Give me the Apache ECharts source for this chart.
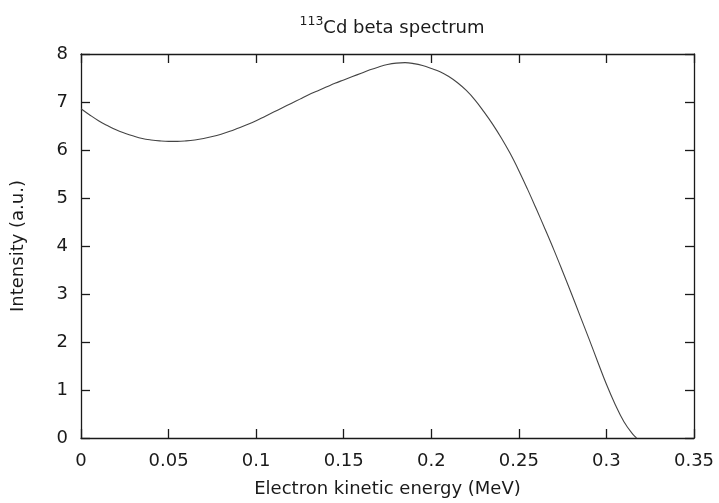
<!DOCTYPE html>
<html>
<head>
<meta charset="utf-8">
<script src="https://cdn.jsdelivr.net/npm/echarts@6/dist/echarts.min.js"></script>
<style>
  html, body { margin: 0; padding: 0; background: #fff; }
  #chart { width: 719px; height: 503px; }
</style>
</head>
<body>
<div id="chart"></div>
<script>
// Electron kinetic energy (MeV)
const energy = [
  0, 0.005, 0.01, 0.015, 0.02, 0.025, 0.03, 0.035, 0.04, 0.045,
  0.05, 0.055, 0.06, 0.065, 0.07, 0.075, 0.08, 0.085, 0.09, 0.095,
  0.1, 0.105, 0.11, 0.115, 0.12, 0.125, 0.13, 0.135, 0.14, 0.145,
  0.15, 0.155, 0.16, 0.165, 0.17, 0.175, 0.18, 0.185, 0.19, 0.195,
  0.2, 0.205, 0.21, 0.215, 0.22, 0.225, 0.23, 0.235, 0.24, 0.245,
  0.25, 0.255, 0.26, 0.265, 0.27, 0.275, 0.28, 0.285, 0.29, 0.295,
  0.3, 0.305, 0.31, 0.315, 0.3172
];
// Intensity (a.u.)
const intensity = [
  6.86, 6.73, 6.61, 6.51, 6.42, 6.35, 6.29, 6.24, 6.21, 6.19,
  6.18, 6.18, 6.19, 6.21, 6.24, 6.28, 6.33, 6.39, 6.46, 6.53,
  6.61, 6.70, 6.79, 6.88, 6.97, 7.06, 7.15, 7.23, 7.31, 7.39,
  7.46, 7.53, 7.60, 7.67, 7.73, 7.78, 7.81, 7.82, 7.80, 7.76,
  7.70, 7.63, 7.53, 7.40, 7.24, 7.04, 6.80, 6.54, 6.25, 5.93,
  5.57, 5.18, 4.77, 4.35, 3.92, 3.47, 3.01, 2.54, 2.07, 1.59,
  1.12, 0.70, 0.34, 0.08, 0
];
const xTicks = ['0', '0.05', '0.1', '0.15', '0.2', '0.25', '0.3', '0.35'];
const yTicks = ['0', '1', '2', '3', '4', '5', '6', '7', '8'];

const FONT = '"DejaVu Sans", "Liberation Sans", Arial, sans-serif';
const INK = '#1a1a1a';

const points = energy.map((e, i) => [e, intensity[i]]);

const chart = echarts.init(document.getElementById('chart'), null, { renderer: 'canvas' });

// frame axes: ticks point inward on all four sides
function frameAxis(extra) {
  return Object.assign({
    axisLine: { show: true, onZero: false, lineStyle: { color: INK, width: 1.3 } },
    axisTick: { show: true, inside: true, length: 9, lineStyle: { color: INK, width: 1.3 } },
    splitLine: { show: false }
  }, extra);
}

chart.setOption({
  animation: false,
  backgroundColor: '#fff',
  title: {
    text: '{sup|113}{main|Cd beta spectrum}',
    left: 387,
    top: 10,
    textAlign: 'center',
    textStyle: {
      fontWeight: 'normal',
      rich: {
        sup: { fontFamily: FONT, fontSize: 12.5, fontWeight: 'normal', color: INK, verticalAlign: 'top', padding: [0, 0, 9, 0] },
        main: { fontFamily: FONT, fontSize: 18, fontWeight: 'normal', color: INK, verticalAlign: 'bottom' }
      }
    }
  },
  grid: { left: 81, right: 25, top: 54, bottom: 63, containLabel: false },
  xAxis: [
    frameAxis({
      type: 'value', min: 0, max: 0.35, interval: 0.05, position: 'bottom',
      name: 'Electron kinetic energy (MeV)',
      nameLocation: 'middle', nameGap: 42,
      nameTextStyle: { fontFamily: FONT, fontSize: 18, color: INK },
      axisLabel: {
        fontFamily: FONT, fontSize: 18, color: INK, margin: 14,
        formatter: v => xTicks[Math.round(v / 0.05)]
      }
    }),
    frameAxis({
      type: 'value', min: 0, max: 0.35, interval: 0.05, position: 'top',
      axisLabel: { show: false }
    })
  ],
  yAxis: [
    frameAxis({
      type: 'value', min: 0, max: 8, interval: 1, position: 'left',
      name: 'Intensity (a.u.)',
      nameLocation: 'middle', nameGap: 54, nameRotate: 90,
      nameTextStyle: { fontFamily: FONT, fontSize: 18, color: INK },
      axisLabel: {
        fontFamily: FONT, fontSize: 18, color: INK, margin: 13,
        formatter: v => yTicks[Math.round(v)]
      }
    }),
    frameAxis({
      type: 'value', min: 0, max: 8, interval: 1, position: 'right',
      axisLabel: { show: false }
    })
  ],
  series: [{
    type: 'line',
    data: points,
    xAxisIndex: 0,
    yAxisIndex: 0,
    smooth: 0.4,
    showSymbol: false,
    lineStyle: { color: '#444', width: 1.1 }
  }]
});
</script>
</body>
</html>
